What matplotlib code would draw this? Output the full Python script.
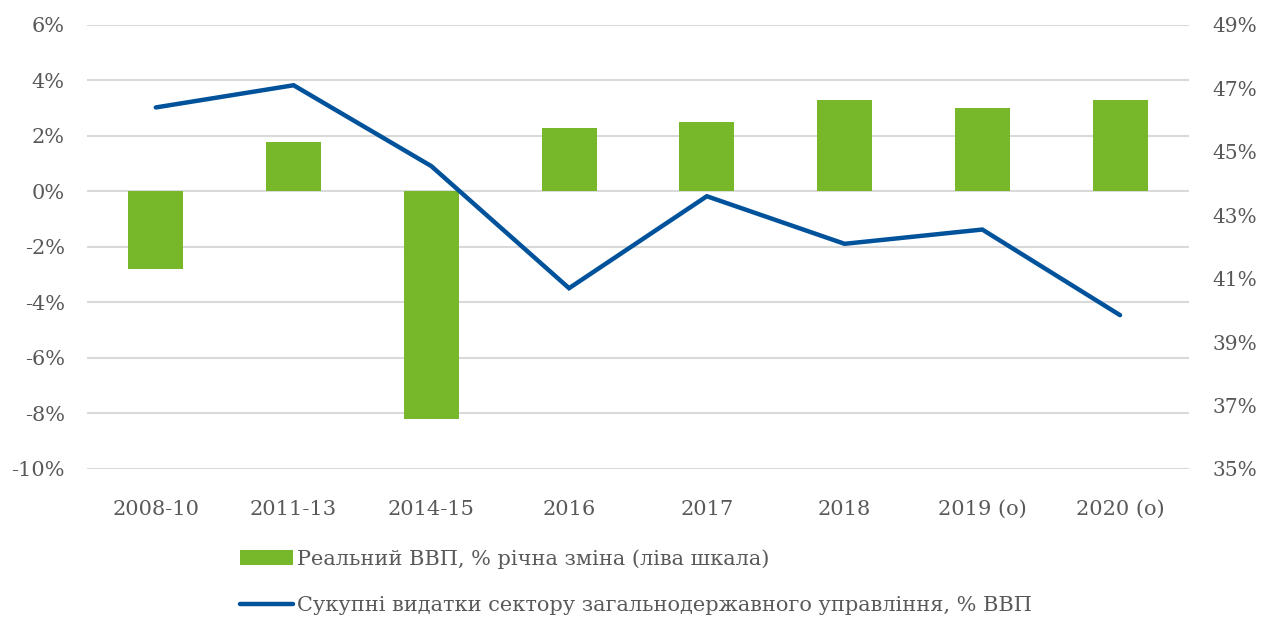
import matplotlib
matplotlib.use('Agg')
from matplotlib import pyplot as plt
from matplotlib.ticker import FuncFormatter
import numpy as np

# data
categories = ['2008-10', '2011-13', '2014-15', '2016', '2017', '2018', '2019 (o)', '2020 (o)']
gdp_growth = [-2.8, 1.8, -8.2, 2.3, 2.5, 3.3, 3.0, 3.3]          # left axis, %
gov_spending = [46.4, 47.1, 44.55, 40.7, 43.6, 42.1, 42.55, 39.85]  # right axis, % of GDP
left_ticks = [-10, -8, -6, -4, -2, 0, 2, 4, 6]
right_ticks = [35, 37, 39, 41, 43, 45, 47, 49]

bar_label = 'Реальний ВВП, % річна зміна (ліва шкала)'
line_label = 'Сукупні видатки сектору загальнодержавного управління, % ВВП'

green = '#76B82A'
blue = '#00529B'
text_gray = '#595959'
grid_gray = '#D9D9D9'

plt.rcParams['font.family'] = ['DejaVu Serif']
plt.rcParams['font.size'] = 15

fig = plt.figure(figsize=(12.62, 6.17), dpi=100)
ax = fig.add_axes([0.0689, 0.2399, 0.8732, 0.7196])
ax2 = ax.twinx()

x = np.arange(len(categories))
ax.bar(x, gdp_growth, width=0.4, color=green, label=bar_label, zorder=2)
ax2.plot(x, gov_spending, color=blue, linewidth=3.2, solid_capstyle='round',
         solid_joinstyle='miter', label=line_label, zorder=3)

ax.set_xlim(-0.5, len(categories) - 0.5)
ax.set_ylim(left_ticks[0], left_ticks[-1])
ax2.set_ylim(right_ticks[0], right_ticks[-1])
ax.set_yticks(left_ticks)
ax2.set_yticks(right_ticks)
pct = FuncFormatter(lambda v, p: f'{v:.0f}%')
ax.yaxis.set_major_formatter(pct)
ax2.yaxis.set_major_formatter(pct)

ax.set_xticks(x)
ax.set_xticklabels(categories)
ax.grid(axis='y', color=grid_gray, linewidth=1.5, zorder=0)
ax.set_axisbelow(True)

for a in (ax, ax2):
    for s in a.spines.values():
        s.set_visible(False)
    a.tick_params(length=0, colors=text_gray, labelsize=15)
ax.tick_params(axis='y', pad=16)
ax2.tick_params(axis='y', pad=17, labelsize=14.5)
ax.tick_params(axis='x', pad=22)

h1, l1 = ax.get_legend_handles_labels()
h2, l2 = ax2.get_legend_handles_labels()
fig.legend(h1 + h2, l1 + l2, loc='upper left', bbox_to_anchor=(0.190, 0.110),
           frameon=False, ncol=1, handlelength=2.55, handletextpad=0.2,
           labelspacing=1.3, fontsize=15, labelcolor=text_gray,
           borderaxespad=0, borderpad=0)

fig.savefig('out.png', dpi=100)
